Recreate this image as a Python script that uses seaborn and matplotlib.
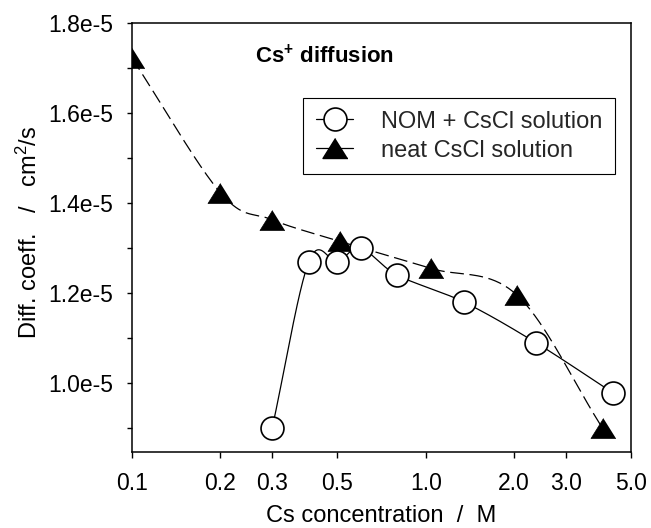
import numpy as np
import pandas as pd
import matplotlib
matplotlib.use("Agg")
import matplotlib.pyplot as plt
from matplotlib.ticker import FixedLocator, NullLocator, FuncFormatter, MultipleLocator
from matplotlib.lines import Line2D
import seaborn as sns

# ---- data ----
nom_conc = [0.3, 0.4, 0.5, 0.6, 0.8, 1.35, 2.37, 4.35]
nom_diff = [0.90e-5, 1.27e-5, 1.27e-5, 1.30e-5, 1.24e-5, 1.18e-5, 1.09e-5, 0.978e-5]
neat_conc = [0.1, 0.2, 0.3, 0.51, 1.04, 2.05, 4.0]
neat_diff = [1.722e-5, 1.423e-5, 1.363e-5, 1.315e-5, 1.255e-5, 1.195e-5, 0.90e-5]
x_ticks = [0.1, 0.2, 0.3, 0.5, 1.0, 2.0, 3.0, 5.0]
x_ticklabels = ["0.1", "0.2", "0.3", "0.5", "1.0", "2.0", "3.0", "5.0"]
y_ticks = [1.0e-5, 1.2e-5, 1.4e-5, 1.6e-5, 1.8e-5]
series_labels = ["NOM + CsCl solution", "neat CsCl solution"]


def smooth_curve(ax, x, y, n=40):
    """Catmull-Rom curve through the points, built in display space."""
    P = ax.transData.transform(np.column_stack([x, y]))
    P = np.vstack([2 * P[0] - P[1], P, 2 * P[-1] - P[-2]])
    t = np.linspace(0.0, 1.0, n)[:, None]
    h00 = 2 * t ** 3 - 3 * t ** 2 + 1
    h10 = t ** 3 - 2 * t ** 2 + t
    h01 = -2 * t ** 3 + 3 * t ** 2
    h11 = t ** 3 - t ** 2
    out = []
    for i in range(1, len(P) - 2):
        m0 = (P[i + 1] - P[i - 1]) / 2
        m1 = (P[i + 2] - P[i]) / 2
        C = h00 * P[i] + h10 * m0 + h01 * P[i + 1] + h11 * m1
        out.append(C if i == 1 else C[1:])
    D = ax.transData.inverted().transform(np.vstack(out))
    return D[:, 0], D[:, 1]


sns.set_theme(style="ticks")
plt.rcParams["font.family"] = ["Liberation Sans", "DejaVu Sans"]
plt.rcParams["mathtext.fontset"] = "custom"
plt.rcParams["mathtext.rm"] = "Liberation Sans"
plt.rcParams["mathtext.bf"] = "Liberation Sans:bold"
plt.rcParams["mathtext.it"] = "Liberation Sans:italic"

fig = plt.figure(figsize=(6.51, 5.28), dpi=100)
ax = fig.add_axes([0.2028, 0.1439, 0.9693 - 0.2028, 0.9564 - 0.1439])

ax.set_xscale("log")
ax.set_xlim(0.1, 5.0)
ax.set_ylim(0.847e-5, 1.8e-5)

df_nom = pd.DataFrame({"conc": nom_conc, "diff": nom_diff})
df_neat = pd.DataFrame({"conc": neat_conc, "diff": neat_diff})

sx, sy = smooth_curve(ax, neat_conc, neat_diff)
ax.plot(sx, sy, color="black", lw=0.9, dashes=(11, 4.5), zorder=2)
cx, cy = smooth_curve(ax, nom_conc, nom_diff)
ax.plot(cx, cy, color="black", lw=0.9, zorder=3)

tri = [(0, 0.8), (-1, -0.8), (1, -0.8)]
sns.scatterplot(data=df_neat, x="conc", y="diff", ax=ax, marker=tri, s=18 ** 2,
                color="black", edgecolor="black", linewidth=0.5, zorder=4)
sns.scatterplot(data=df_nom, x="conc", y="diff", ax=ax, marker="o", s=16.5 ** 2,
                facecolor="white", edgecolor="black", linewidth=1.2, zorder=5)

ax.set_xlim(0.1, 5.0)
ax.set_ylim(0.847e-5, 1.8e-5)
ax.xaxis.set_major_locator(FixedLocator(x_ticks))
ax.xaxis.set_minor_locator(NullLocator())
ax.set_xticklabels(x_ticklabels)
ax.yaxis.set_major_locator(FixedLocator(y_ticks))
ax.yaxis.set_minor_locator(MultipleLocator(0.1e-5))
ax.yaxis.set_major_formatter(FuncFormatter(lambda v, p: f"{v * 1e5:.1f}e-5"))

for s in ax.spines.values():
    s.set_visible(True)
    s.set_color("black")
    s.set_linewidth(1.1)
ax.tick_params(axis="both", which="both", direction="out", color="black",
               width=1.0, labelsize=16.5, labelcolor="black")
ax.tick_params(axis="x", which="major", length=4.5, pad=10)
ax.tick_params(axis="y", which="both", length=3.5, pad=10)

ax.set_xlabel("Cs concentration  /  M", fontsize=17, color="black", labelpad=7)
ax.set_ylabel("Diff. coeff.   /   cm$^2$/s", fontsize=17, color="black")
ax.yaxis.set_label_coords(-0.18, 0.513)

ax.text(0.246, 0.921, "Cs$^{\\mathbf{+}}$ diffusion", transform=ax.transAxes,
        fontsize=16, fontweight="bold", ha="left", va="center", color="black")

handles = [
    Line2D([], [], color="black", lw=0.9, marker="o", markersize=16.5,
           markerfacecolor="white", markeredgecolor="black", markeredgewidth=1.2),
    Line2D([], [], color="black", lw=0.9, marker=tri, markersize=18,
           markerfacecolor="black", markeredgecolor="black"),
]
leg = ax.legend(handles, series_labels, loc="upper left",
                bbox_to_anchor=(0.343, 0.825), fontsize=17, frameon=True,
                fancybox=False, edgecolor="black", framealpha=1,
                handlelength=1.6, handletextpad=1.15, borderpad=0.53,
                labelspacing=0.3, borderaxespad=0)
leg.get_frame().set_linewidth(0.8)

fig.savefig("out.png", dpi=100)
